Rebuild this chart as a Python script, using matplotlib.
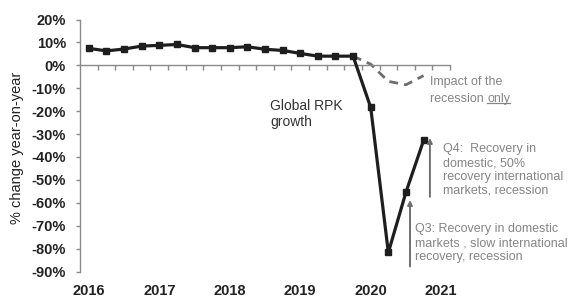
import numpy as np
import matplotlib
matplotlib.use("Agg")
import matplotlib.pyplot as plt
from matplotlib.lines import Line2D

plt.rcParams['font.family'] = ['Liberation Sans', 'DejaVu Sans']

# ---- data ----
quarters = [f"{y}Q{q}" for y in range(2016, 2021) for q in range(1, 5)] + ["2021Q1"]
rpk_growth = [7.4, 6.3, 7.1, 8.4, 8.7, 9.1, 7.7, 7.7, 7.7, 8.1,
              7.0, 6.5, 5.2, 4.0, 4.0, 4.0, -18.4, -81.7, -55.4, -32.8]
recession_quarters = ["2019Q4", "2020Q1", "2020Q2", "2020Q3", "2020Q4"]
recession_only = [4.0, 0.5, -7.0, -8.5, -4.5]
year_labels = ["2016", "2017", "2018", "2019", "2020", "2021"]
y_ticks = list(range(-90, 21, 10))

# ---- figure ----
fig = plt.figure(figsize=(5.68, 3.02), dpi=100)
ax = fig.add_axes([80 / 568, (302 - 271.5) / 302, 370 / 568, 252 / 302])

pos = {q: i + 0.5 for i, q in enumerate(quarters)}
x_rpk = [pos[q] for q in quarters[:len(rpk_growth)]]
x_rec = [pos[q] for q in recession_quarters]

ax.plot(x_rec, recession_only, color='#6e6e6e', lw=2.0, ls=(0, (3.2, 2.2)), zorder=2)
ax.plot(x_rpk, rpk_growth, color='#1e1e1e', lw=2.3, marker='s', ms=4, zorder=3)

ax.set_xlim(0, len(quarters))
ax.set_ylim(-90, 20)

# spines
for s in ['top', 'right']:
    ax.spines[s].set_visible(False)
ax.spines['bottom'].set_position(('data', 0))
ax.spines['bottom'].set_color('#8a8a8a')
ax.spines['left'].set_color('#8a8a8a')
ax.spines['left'].set_linewidth(1.0)
ax.spines['bottom'].set_linewidth(1.0)

ax.set_xticks(np.arange(1, len(quarters) + 1))
ax.tick_params(axis='x', length=3.5, width=1, color='#8a8a8a', labelbottom=False, direction='out')
ax.set_yticks(y_ticks)
ax.set_yticklabels([f"{v}%" for v in y_ticks])
ax.tick_params(axis='y', length=3, width=1, color='#8a8a8a', pad=7,
               labelsize=10.5, labelcolor='#222222')
for lab in ax.get_yticklabels():
    lab.set_fontweight('bold')

sec = ax.secondary_xaxis(0)
sec.set_xticks([pos[y + "Q1"] for y in year_labels])
sec.set_xticklabels(year_labels)
sec.tick_params(length=0, pad=9, labelsize=10.5, labelcolor='#222222')
for lab in sec.get_xticklabels():
    lab.set_fontweight('bold')
sec.spines['bottom'].set_visible(False)

ax.set_ylabel("% change year-on-year", fontsize=10.5, color='#222222')
ax.yaxis.set_label_coords(-0.15, 0.49)

# annotations
ax.text(10.78, -21.3, "Global RPK\ngrowth", fontsize=10, color='#333333',
        ha='left', va='center', linespacing=1.2)

t1 = ax.text(19.86, -7.4, "Impact of the", fontsize=9, color='#858585', ha='left', va='center')
t2 = ax.text(19.86, -14.7, "recession ", fontsize=9, color='#858585', ha='left', va='center')
t3 = ax.annotate("only", xy=(1, 0), xycoords=t2, fontsize=9, color='#858585',
                 ha='left', va='bottom')

ax.text(20.6, -45.7, "Q4:  Recovery in\ndomestic, 50%\nrecovery international\nmarkets, recession",
        fontsize=9, color='#858585', ha='left', va='center', linespacing=1.2)
ax.text(19.0, -77.6, "Q3: Recovery in domestic\nmarkets , slow international\nrecovery, recession",
        fontsize=9, color='#858585', ha='left', va='center', linespacing=1.2)

ax.annotate("", xy=(19.86, -31.7), xytext=(19.86, -57.4),
            arrowprops=dict(arrowstyle='-|>', color='#707070', lw=1.4, mutation_scale=7,
                            shrinkA=0, shrinkB=0))
ax.annotate("", xy=(18.73, -58.8), xytext=(18.73, -87.8),
            arrowprops=dict(arrowstyle='-|>', color='#707070', lw=1.4, mutation_scale=7,
                            shrinkA=0, shrinkB=0))

# underline "only"
fig.canvas.draw()
bb = t3.get_window_extent()
inv = fig.transFigure.inverted()
(x0, y0) = inv.transform((bb.x0, bb.y0 + 2))
(x1, _) = inv.transform((bb.x1, bb.y0 + 2))
fig.add_artist(Line2D([x0, x1], [y0, y0], color='#858585', lw=0.9, transform=fig.transFigure))

fig.savefig("out.png", dpi=100)
